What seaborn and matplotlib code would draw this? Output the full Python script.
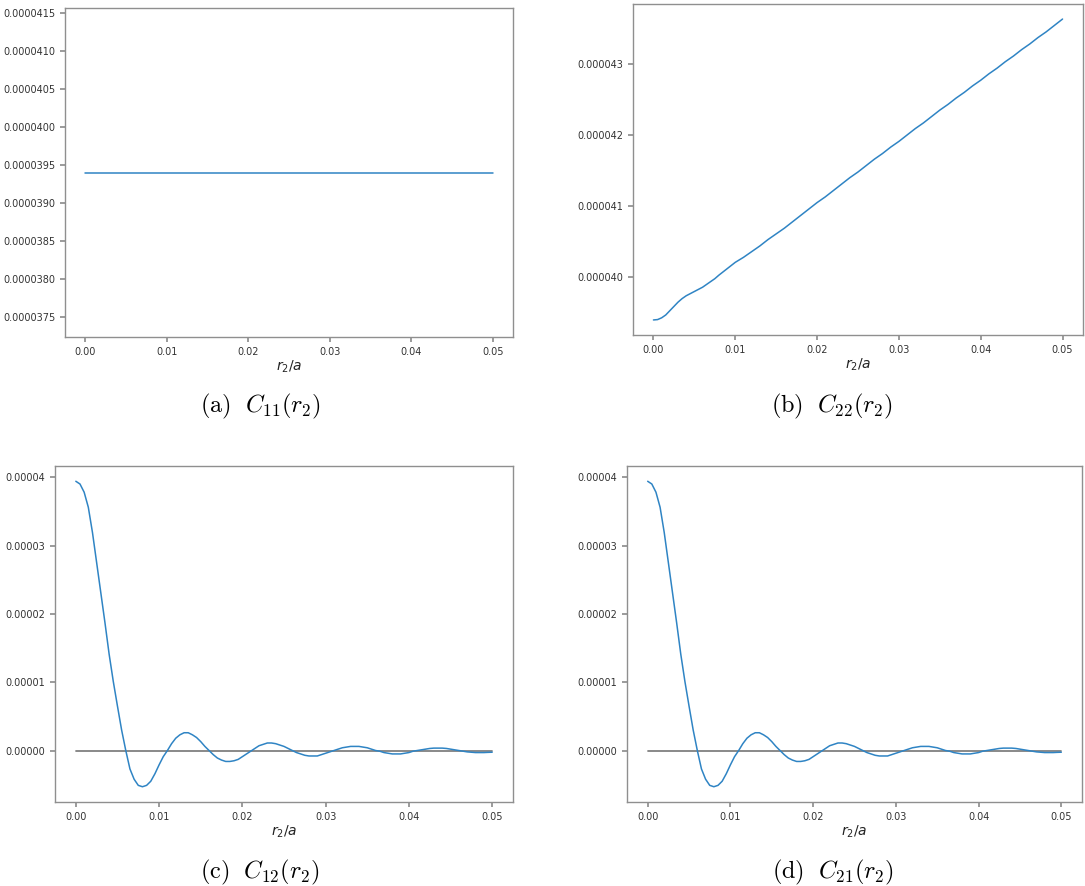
import matplotlib
matplotlib.use("Agg")
import matplotlib.pyplot as plt
import seaborn as sns

# -------------------------------
# Data (values in units of 1e-5)
r_c11 = [0.0, 0.05]
c11 = [3.94, 3.94]

r_c22 = [0.0, 0.0005, 0.001, 0.0015, 0.002, 0.0025, 0.003, 0.0035, 0.004, 0.0045,
         0.005, 0.0055, 0.006, 0.0065, 0.007, 0.0075, 0.008, 0.009, 0.010, 0.011,
         0.012, 0.013, 0.014, 0.015, 0.016, 0.017, 0.018, 0.019, 0.020, 0.021,
         0.022, 0.023, 0.024, 0.025, 0.026, 0.027, 0.028, 0.029, 0.030, 0.031,
         0.032, 0.033, 0.034, 0.035, 0.036, 0.037, 0.038, 0.039, 0.040, 0.041,
         0.042, 0.043, 0.044, 0.045, 0.046, 0.047, 0.048, 0.049, 0.050]
c22 = [3.940, 3.9405, 3.943, 3.947, 3.953, 3.959, 3.965, 3.970, 3.974, 3.977,
       3.980, 3.983, 3.986, 3.990, 3.994, 3.998, 4.003, 4.012, 4.021, 4.028,
       4.036, 4.044, 4.053, 4.061, 4.069, 4.078, 4.087, 4.096, 4.105, 4.113,
       4.122, 4.131, 4.140, 4.148, 4.157, 4.166, 4.174, 4.183, 4.191, 4.200,
       4.209, 4.217, 4.226, 4.235, 4.243, 4.252, 4.260, 4.269, 4.277, 4.286,
       4.294, 4.303, 4.311, 4.320, 4.328, 4.337, 4.345, 4.354, 4.363]

r_c12 = [0.0, 0.0005, 0.001, 0.0015, 0.002, 0.0025, 0.003, 0.0035, 0.004, 0.0045,
         0.005, 0.0055, 0.006, 0.0065, 0.007, 0.0075, 0.008, 0.0085, 0.009, 0.0095,
         0.010, 0.0105, 0.011, 0.0115, 0.012, 0.0125, 0.013, 0.0135, 0.014, 0.0145,
         0.015, 0.0155, 0.016, 0.0165, 0.017, 0.0175, 0.018, 0.0185, 0.019, 0.0195,
         0.020, 0.0205, 0.021, 0.0215, 0.022, 0.0225, 0.023, 0.0235, 0.024, 0.0245,
         0.025, 0.0255, 0.026, 0.0265, 0.027, 0.0275, 0.028, 0.0285, 0.029, 0.0295,
         0.030, 0.0305, 0.031, 0.0315, 0.032, 0.0325, 0.033, 0.0335, 0.034, 0.0345,
         0.035, 0.0355, 0.036, 0.0365, 0.037, 0.0375, 0.038, 0.0385, 0.039, 0.0395,
         0.040, 0.0405, 0.041, 0.0415, 0.042, 0.0425, 0.043, 0.0435, 0.044, 0.0445,
         0.045, 0.0455, 0.046, 0.0465, 0.047, 0.0475, 0.048, 0.0485, 0.049, 0.0495,
         0.050]
c12 = [3.94, 3.90, 3.78, 3.56, 3.19, 2.75, 2.31, 1.87, 1.41, 1.01,
       0.65, 0.30, 0.00, -0.27, -0.42, -0.51, -0.53, -0.51, -0.45, -0.34,
       -0.21, -0.09, 0.00, 0.10, 0.18, 0.23, 0.26, 0.26, 0.23, 0.19,
       0.13, 0.06, 0.00, -0.06, -0.11, -0.14, -0.16, -0.16, -0.15, -0.13,
       -0.09, -0.05, -0.01, 0.03, 0.07, 0.09, 0.11, 0.11, 0.10, 0.08,
       0.06, 0.03, 0.00, -0.03, -0.05, -0.07, -0.08, -0.08, -0.08, -0.06,
       -0.04, -0.02, 0.00, 0.02, 0.04, 0.05, 0.06, 0.06, 0.06, 0.05,
       0.04, 0.02, 0.00, -0.01, -0.03, -0.04, -0.05, -0.05, -0.05, -0.04,
       -0.03, -0.01, 0.00, 0.01, 0.02, 0.03, 0.035, 0.035, 0.035, 0.03,
       0.02, 0.01, 0.00, -0.01, -0.02, -0.025, -0.03, -0.03, -0.03, -0.027,
       -0.025]
c21 = list(c12)

zero_r = [0.0, 0.05]
zero_v = [0.0, 0.0]

captions = [r"$\mathrm{(a)}\ \ C_{11}(r_2)$", r"$\mathrm{(b)}\ \ C_{22}(r_2)$",
            r"$\mathrm{(c)}\ \ C_{12}(r_2)$", r"$\mathrm{(d)}\ \ C_{21}(r_2)$"]

# -------------------------------
sns.set_theme(style="white")
plt.rcParams.update({
    "axes.edgecolor": "#8f8f8f",
    "axes.linewidth": 1.0,
    "xtick.bottom": True,
    "ytick.left": True,
    "xtick.color": "#8f8f8f",
    "ytick.color": "#8f8f8f",
    "xtick.labelcolor": "#333333",
    "ytick.labelcolor": "#333333",
    "xtick.major.size": 3.5,
    "ytick.major.size": 3.5,
    "xtick.labelsize": 7.0,
    "ytick.labelsize": 7.0,
    "mathtext.fontset": "dejavusans",
})

W, H = 1085, 886
fig = plt.figure(figsize=(W / 100, H / 100), dpi=100)


def box(left, right, top, bottom):
    return [left / W, 1 - bottom / H, (right - left) / W, (bottom - top) / H]


line_color = "#2f84c4"
axes = [
    fig.add_axes(box(65, 513, 8, 337)),
    fig.add_axes(box(633, 1083, 4, 335)),
    fig.add_axes(box(55, 513, 466, 802)),
    fig.add_axes(box(627, 1082, 466, 802)),
]

series = [(r_c11, c11), (r_c22, c22), (r_c12, c12), (r_c12, c21)]

for i, (ax, (r, v)) in enumerate(zip(axes, series)):
    if i >= 2:
        sns.lineplot(x=zero_r, y=zero_v, ax=ax, color="#808080", linewidth=1.3)
    sns.lineplot(x=r, y=[val * 1e-5 for val in v], ax=ax, color=line_color,
                 linewidth=1.1, estimator=None)
    ax.ticklabel_format(axis="y", style="plain", useOffset=False)
    ax.ticklabel_format(axis="x", style="plain", useOffset=False)
    ax.set_xlabel(r"$r_2/a$", fontsize=10, color="#222222", labelpad=1)
    for s in ax.spines.values():
        s.set_visible(True)

# captions
cap_pos = [(260, 406), (832, 406), (260, 872), (833, 872)]
for (cx, cy), text in zip(cap_pos, captions):
    fig.text(cx / W, 1 - cy / H, text, fontsize=17.5, ha="center", va="center",
             color="black", math_fontfamily="cm")

fig.savefig("out.png", dpi=100)
